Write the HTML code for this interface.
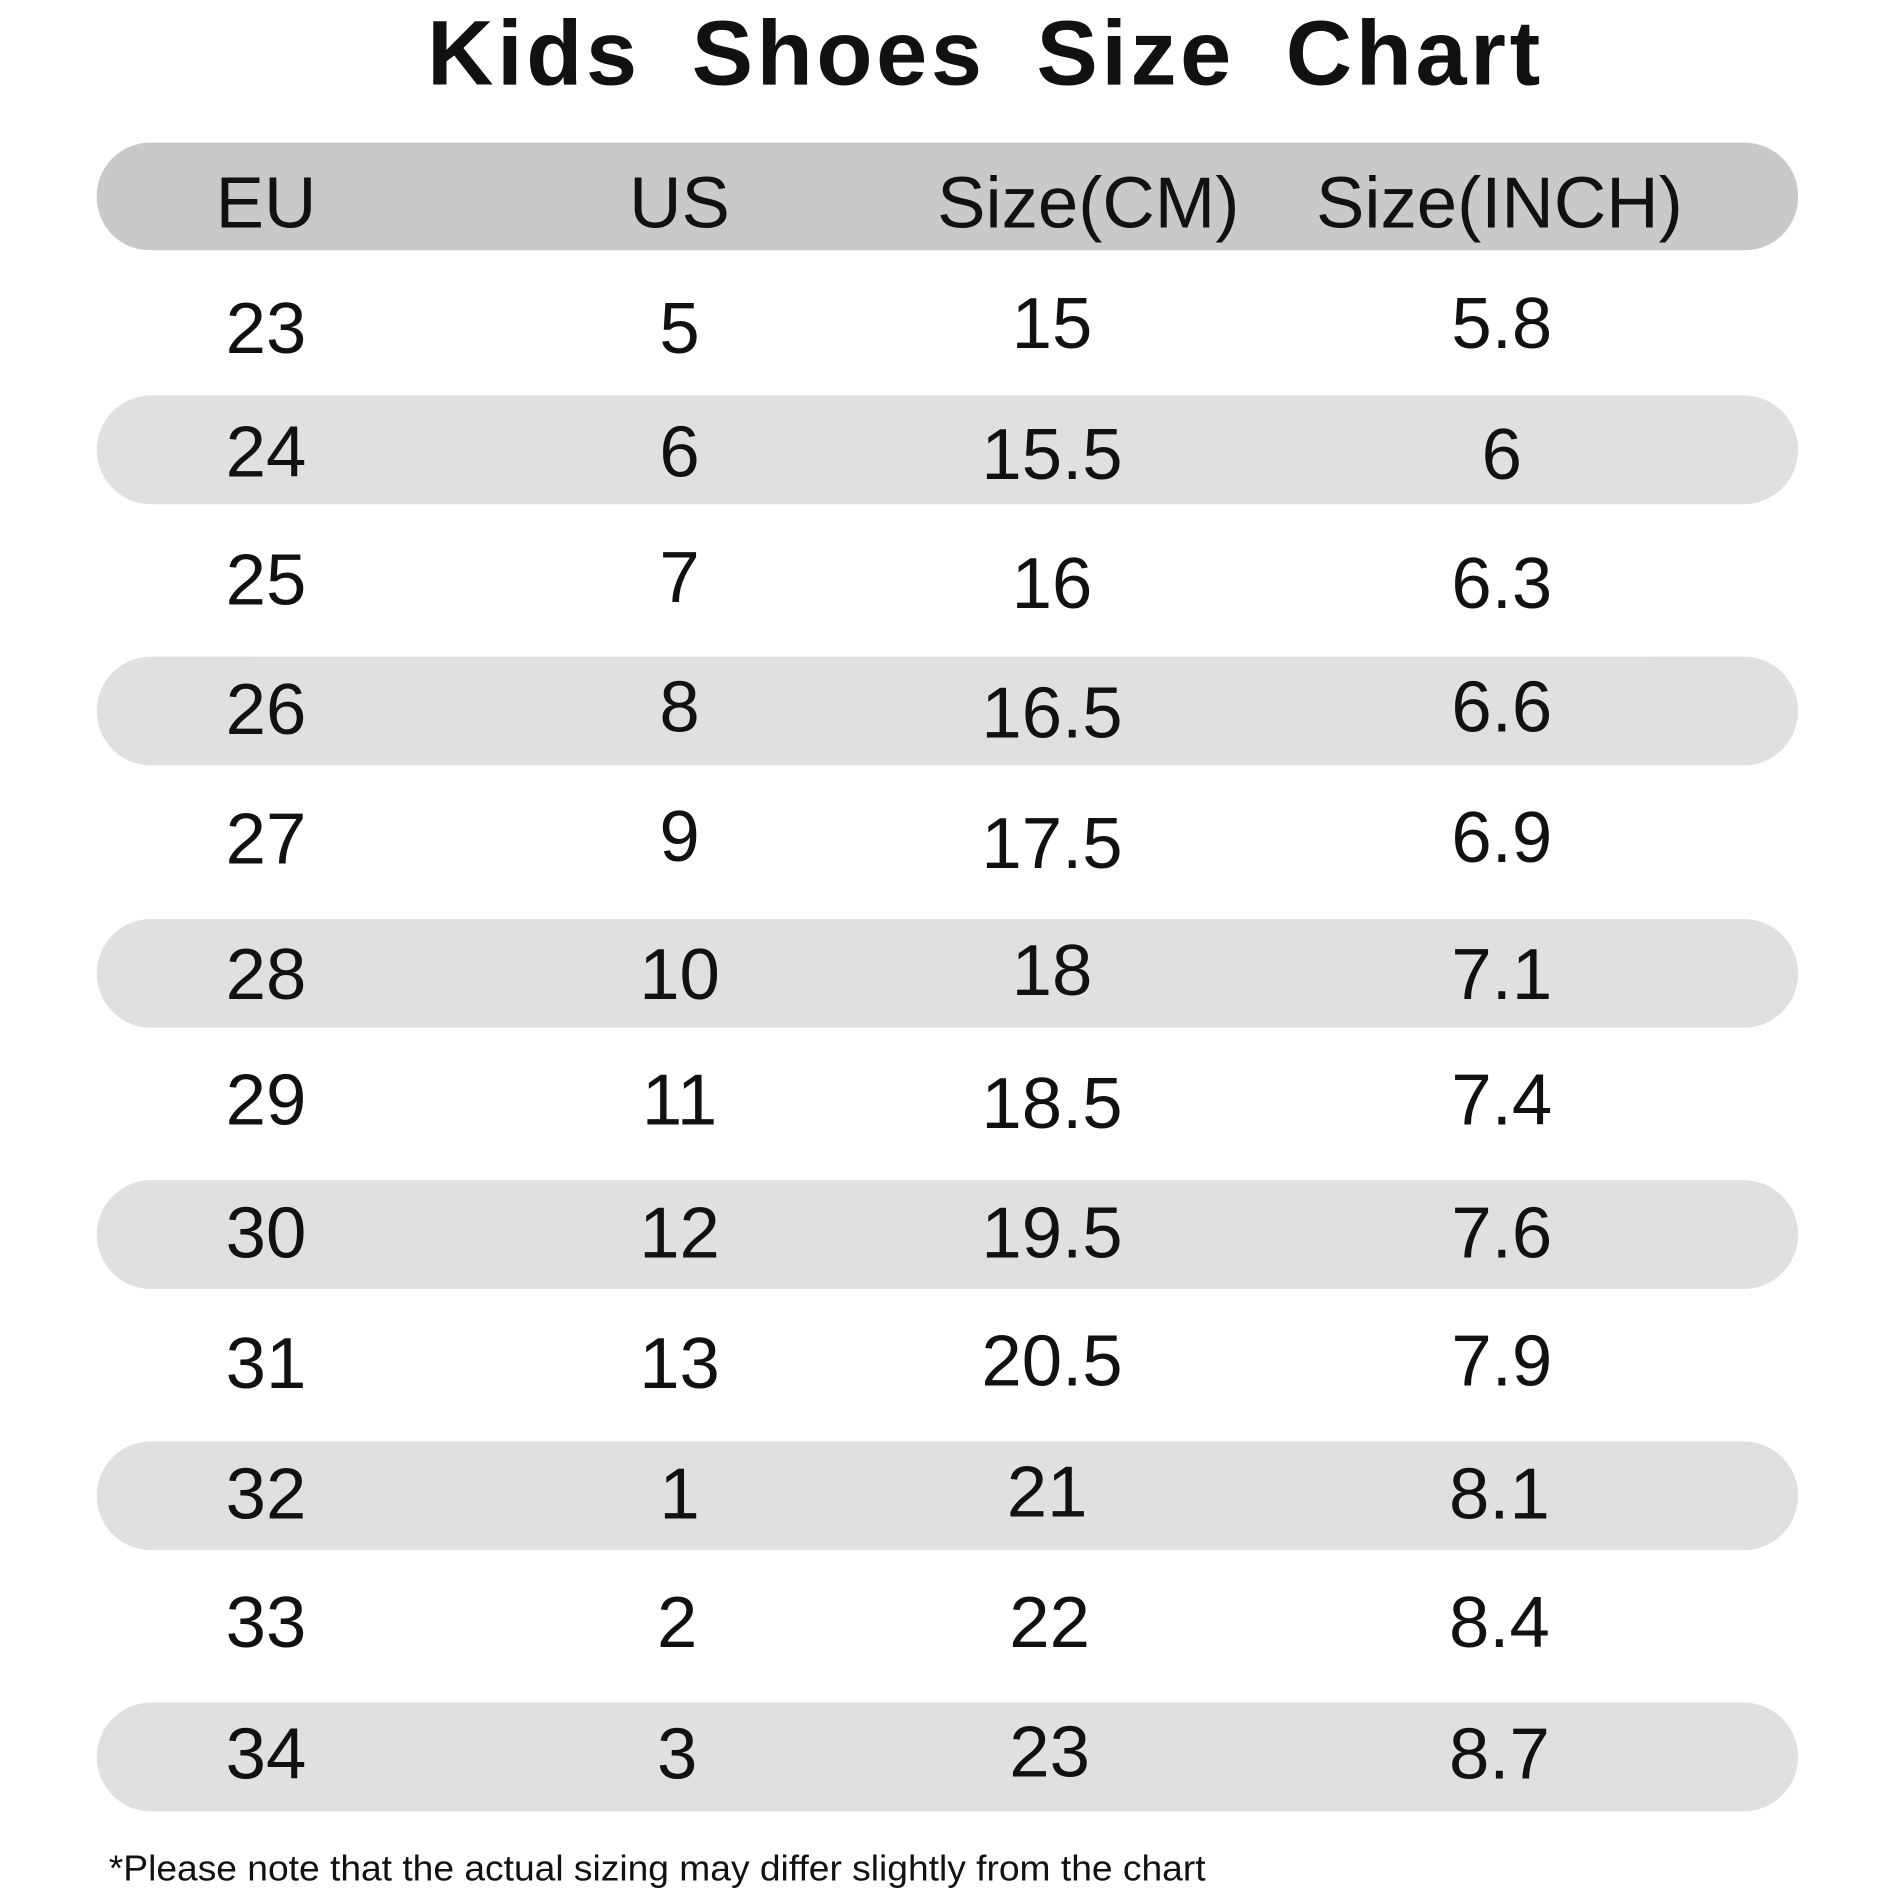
<!DOCTYPE html>
<html><head><meta charset="utf-8"><style>
html,body{margin:0;padding:0;background:#fff}
svg{display:block}
text{font-family:"Liberation Sans",sans-serif;fill:#111}
</style></head><body>
<svg width="1896" height="1896" viewBox="0 0 1568 1568" xmlns="http://www.w3.org/2000/svg">
<text x="815" y="70" text-anchor="middle" font-size="76" font-weight="bold" letter-spacing="3" word-spacing="18">Kids Shoes Size Chart</text>
<rect x="80" y="118" width="1407" height="89" rx="44" fill="#c9c9c9"/>
<rect x="80" y="327" width="1407" height="90" rx="45" fill="#e0e0e0"/>
<rect x="80" y="543" width="1407" height="90" rx="45" fill="#e0e0e0"/>
<rect x="80" y="760" width="1407" height="90" rx="45" fill="#e0e0e0"/>
<rect x="80" y="976" width="1407" height="90" rx="45" fill="#e0e0e0"/>
<rect x="80" y="1192" width="1407" height="90" rx="45" fill="#e0e0e0"/>
<rect x="80" y="1408" width="1407" height="90" rx="45" fill="#e0e0e0"/>
<g font-size="60" text-anchor="middle">
<text x="220" y="188">EU</text><text x="562" y="188">US</text><text x="900" y="188">Size(CM)</text><text x="1240" y="188">Size(INCH)</text>
</g>
<g font-size="60" text-anchor="middle">
<text x="220" y="292">23</text><text x="562" y="292">5</text><text x="870" y="288">15</text><text x="1242" y="288">5.8</text>
<text x="220" y="394">24</text><text x="562" y="394">6</text><text x="870" y="396">15.5</text><text x="1242" y="396">6</text>
<text x="220" y="500">25</text><text x="562" y="498">7</text><text x="870" y="503">16</text><text x="1242" y="503">6.3</text>
<text x="220" y="607">26</text><text x="562" y="605">8</text><text x="870" y="610">16.5</text><text x="1242" y="605">6.6</text>
<text x="220" y="714">27</text><text x="562" y="712">9</text><text x="870" y="718">17.5</text><text x="1242" y="713">6.9</text>
<text x="220" y="826">28</text><text x="562" y="826">10</text><text x="870" y="823">18</text><text x="1242" y="826">7.1</text>
<text x="220" y="930">29</text><text x="562" y="930">11</text><text x="870" y="933">18.5</text><text x="1242" y="930">7.4</text>
<text x="220" y="1040">30</text><text x="562" y="1040">12</text><text x="870" y="1040">19.5</text><text x="1242" y="1040">7.6</text>
<text x="220" y="1148">31</text><text x="562" y="1148">13</text><text x="870" y="1146">20.5</text><text x="1242" y="1146">7.9</text>
<text x="220" y="1256">32</text><text x="562" y="1256">1</text><text x="866" y="1254">21</text><text x="1240" y="1256">8.1</text>
<text x="220" y="1362">33</text><text x="560" y="1362">2</text><text x="868" y="1362">22</text><text x="1240" y="1362">8.4</text>
<text x="220" y="1471">34</text><text x="560" y="1471">3</text><text x="868" y="1469">23</text><text x="1240" y="1471">8.7</text>
</g>
<text x="90" y="1555" font-size="30" textLength="907" lengthAdjust="spacingAndGlyphs">*Please note that the actual sizing may differ slightly from the chart</text>
</svg>
</body></html>
